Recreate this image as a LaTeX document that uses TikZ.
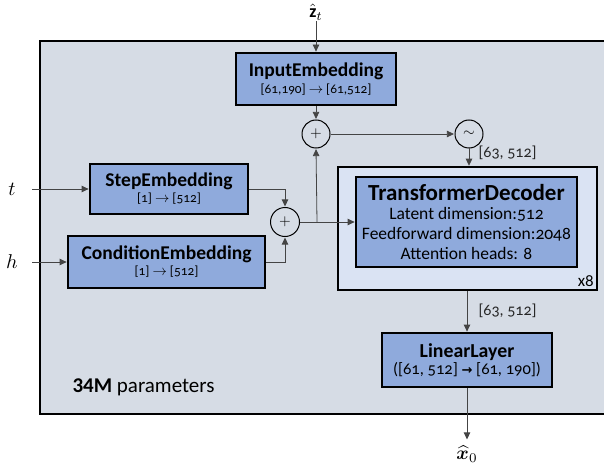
\documentclass[tikz,border=0pt]{standalone}
\usepackage{fontspec}
\setmainfont{Carlito}[Numbers=OldStyle]
\usepackage{amsmath,bm,graphicx}
\usetikzlibrary{arrows.meta}
\definecolor{bgray}{HTML}{D6DCE5}
\definecolor{bblue}{HTML}{8FAADC}
\definecolor{lblue}{HTML}{DAE3F3}
\definecolor{lin}{HTML}{444444}
\begin{document}
\begin{tikzpicture}[x=1pt,y=-1pt,
  blk/.style={draw=black, line width=1.6pt, fill=bblue, align=center, inner sep=0pt},
  conn/.style={draw=lin, line width=0.8pt},
  arr/.style={conn, -{Triangle[length=7pt,width=6.5pt]}, shorten >=0.6pt},
  op/.style={circle, draw=black, line width=1pt, fill=bgray, minimum size=28pt, inner sep=0pt},
  lbl/.style={font=\fontsize{16}{18}\selectfont, text=black!85}]
\useasboundingbox (0,0) rectangle (604,465);
% outer region
\fill[bgray] (40,41) rectangle (612,414);
\draw[line width=1.2pt] (612,41) -- (40,41) -- (40,414) -- (612,414);

% input embedding
\node[blk, minimum width=160pt, minimum height=52pt] (inp) at (316,79)
  {{\fontsize{19.5}{21}\selectfont\bfseries InputEmbedding}\\[2.5pt]
   {\fontsize{13.3}{14}\selectfont [61,190] $\rightarrow$ [61,512]}};
\node[inner sep=1pt] (zt) at (316,12) {\scalebox{1.8}{$\hat{\mathbf{z}}_t$}};

% operators
\node[op] (p1) at (316,134) {\scalebox{1.5}{$+$}};
\node[op] (tl) at (469,134) {\scalebox{1.5}{$\sim$}};
\node[op, minimum size=29pt] (p2) at (285,222) {\scalebox{1.5}{$+$}};

% transformer
\node[draw=black, line width=1.4pt, fill=lblue, minimum width=259pt, minimum height=123pt, inner sep=0pt] (tro) at (467.5,228.5) {};
\node[blk, minimum width=221pt, minimum height=90pt, font=\fontsize{17.5}{20}\selectfont] (tri) at (466.5,222)
  {{\fontsize{23}{24}\selectfont\bfseries TransformerDecoder}\\[-1pt]
   Latent dimension:512\\
   Feedforward dimension:2048\\
   Attention heads: 8};
\node[anchor=south east, font=\fontsize{17}{19}\selectfont, inner sep=0pt] (x8) at (594,287) {x8};

% step / condition
\node[blk, minimum width=158pt, minimum height=50pt] (step) at (169,189)
  {{\fontsize{19.5}{21}\selectfont\bfseries StepEmbedding}\\[2pt]
   {\fontsize{13.3}{14}\selectfont [1] $\rightarrow$ [512]}};
\node[blk, minimum width=197pt, minimum height=52pt] (cond) at (166.5,262)
  {{\fontsize{19.5}{21}\selectfont\bfseries ConditionEmbedding}\\[2pt]
   {\fontsize{13.3}{14}\selectfont [1] $\rightarrow$ [512]}};
\node (t) at (12,189) {\scalebox{2}{$t$}};
\node (h) at (12,262) {\scalebox{2}{$h$}};
\coordinate (tin) at (32,189);
\coordinate (hin) at (32,262);
\coordinate (J) at (317,222);

% linear layer
\node[blk, minimum width=170pt, minimum height=54pt] (lin) at (467,360)
  {{\fontsize{19.8}{21}\selectfont\bfseries LinearLayer}\\[1pt]
   {\fontsize{16.5}{18}\selectfont ([61, 512] {\fontspec{DejaVu Sans}\bfseries\fontsize{13}{14}\selectfont →} [61, 190])}};
\coordinate (xo) at (467,440);
\node[inner sep=1pt] (x0) at (467,454) {\scalebox{1.9}{$\widehat{\boldsymbol{x}}_0$}};

\node[anchor=west, font=\fontsize{21}{23}\selectfont] (par) at (69,387)
  {{\addfontfeatures{Numbers=Lining}\bfseries 34M} parameters};

% connectors
\draw[arr] (zt.south) -- (inp.north);
\draw[arr] (inp.south) -- (p1.north);
\draw[arr] (p1.east) -- (tl.west);
\draw[arr] (tl.south) -- (tl.south |- tro.north);
\node[lbl, anchor=west] (l1) at (475,153) {[63, 512]};
\draw[arr] (tin) -- (step.west);
\draw[arr] (hin) -- (cond.west);
\draw[arr] (step.east) -| (p2.north);
\draw[arr] (cond.east) -| (p2.south);
\draw[conn] (p2.east) -- (J);
\draw[arr] (J) -- (tri.west);
\draw[arr] (J) -- (p1.south);
\draw[arr] (tro.south -| lin.north) -- (lin.north);
\node[lbl, anchor=west] (l2) at (475,311) {[63, 512]};
\draw[arr] (lin.south) -- (xo);
\end{tikzpicture}
\end{document}
